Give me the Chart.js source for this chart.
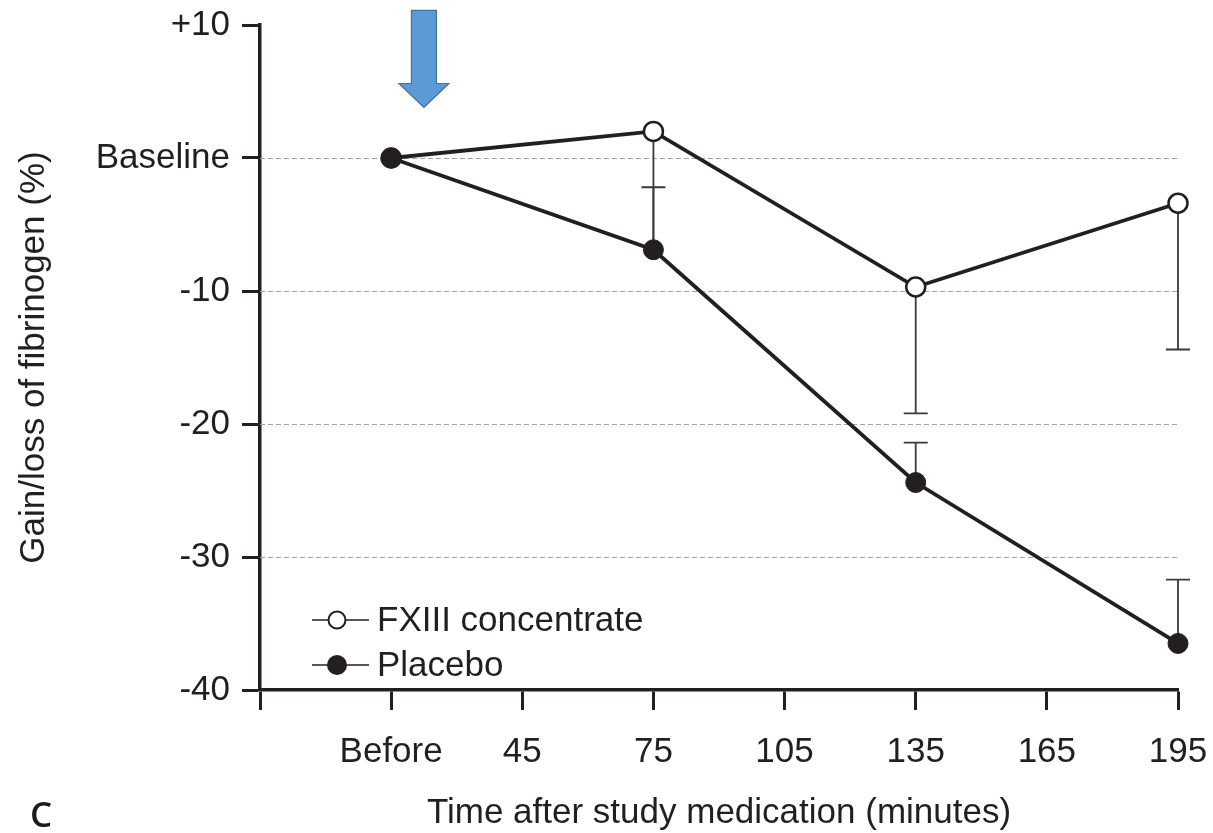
<!DOCTYPE html>
<html lang="en">
<head>
<meta charset="UTF-8">
<title>Gain/loss of fibrinogen</title>
<script src="https://cdn.jsdelivr.net/npm/chart.js"></script>
<style>
  html, body { margin: 0; padding: 0; background: #fff; }
</style>
</head>
<body>
<canvas id="myChart" width="1213" height="833"></canvas>
<script>
// data
var times = [15, 75, 135, 195];
var fxValues = [0, 2.0, -9.7, -3.4];
var fxLower = [null, -6.9, -19.2, -14.4];
var placeboValues = [0, -6.9, -24.4, -36.5];
var placeboUpper = [null, -2.2, -21.4, -31.7];
var xTickValues = [-15, 15, 45, 75, 105, 135, 165, 195];
var xTickLabels = ['', 'Before', '45', '75', '105', '135', '165', '195'];
var yTickLabels = { '10': '+10', '0': 'Baseline' };
var gridValues = [0, -10, -20, -30];
var seriesNames = ['FXIII concentrate', 'Placebo'];
// arrow marking the study medication (time, from, to)
var arrowTime = 22.5, arrowTop = 11.1, arrowShaftEnd = 5.6, arrowTip = 3.8;

var ink = '#231f20';
var fontFamily = '"Liberation Sans", Arial, Helvetica, sans-serif';

function pts(vals) {
    return times.map(function (t, i) { return { x: t, y: vals[i] }; });
}

var extras = {
    id: 'extras',
    beforeDatasetsDraw: function (chart) {
        var ctx = chart.ctx, xs = chart.scales.x, ys = chart.scales.y, area = chart.chartArea;
        ctx.save();
        ctx.strokeStyle = '#a0a0a0';
        ctx.lineWidth = 1;
        ctx.setLineDash([5, 3]);
        gridValues.forEach(function (v) {
            var y = Math.round(ys.getPixelForValue(v)) + 0.5;
            ctx.beginPath();
            ctx.moveTo(area.left, y);
            ctx.lineTo(area.right, y);
            ctx.stroke();
        });
        ctx.setLineDash([]);

        // error bars, cap skipped when the whisker ends on the other series' marker
        ctx.strokeStyle = '#3a3a3a';
        ctx.lineWidth = 1.8;
        function whisker(vals, ends, other) {
            times.forEach(function (t, i) {
                if (ends[i] === null) return;
                var x = xs.getPixelForValue(t);
                var y0 = ys.getPixelForValue(vals[i]);
                var y1 = ys.getPixelForValue(ends[i]);
                ctx.beginPath();
                ctx.moveTo(x, y0);
                ctx.lineTo(x, y1);
                if (Math.abs(ends[i] - other[i]) > 0.3) {
                    ctx.moveTo(x - 12, y1);
                    ctx.lineTo(x + 12, y1);
                }
                ctx.stroke();
            });
        }
        whisker(fxValues, fxLower, placeboValues);
        whisker(placeboValues, placeboUpper, fxValues);
        ctx.restore();
    },
    afterDraw: function (chart) {
        var ctx = chart.ctx, xs = chart.scales.x, ys = chart.scales.y, area = chart.chartArea;
        ctx.save();

        // blue arrow
        var ax = xs.getPixelForValue(arrowTime);
        var top = ys.getPixelForValue(arrowTop);
        var mid = ys.getPixelForValue(arrowShaftEnd);
        var tip = ys.getPixelForValue(arrowTip);
        ctx.beginPath();
        ctx.moveTo(ax - 12.5, top);
        ctx.lineTo(ax + 12.5, top);
        ctx.lineTo(ax + 12.5, mid);
        ctx.lineTo(ax + 25, mid);
        ctx.lineTo(ax, tip);
        ctx.lineTo(ax - 25, mid);
        ctx.lineTo(ax - 12.5, mid);
        ctx.closePath();
        ctx.fillStyle = '#5b9bd5';
        ctx.fill();
        ctx.strokeStyle = '#41719c';
        ctx.lineWidth = 1.2;
        ctx.stroke();

        // legend
        var lx = area.left + 52, mx = area.left + 77;
        var rows = [area.bottom - 70, area.bottom - 25];
        ctx.font = '35px ' + fontFamily;
        ctx.textBaseline = 'middle';
        ctx.textAlign = 'left';
        rows.forEach(function (y, i) {
            ctx.strokeStyle = ink;
            ctx.lineWidth = 1.5;
            ctx.beginPath();
            ctx.moveTo(lx, y);
            ctx.lineTo(lx + 57, y);
            ctx.stroke();
            ctx.beginPath();
            ctx.arc(mx, y, i === 0 ? 8.5 : 9, 0, Math.PI * 2);
            ctx.fillStyle = i === 0 ? '#fff' : ink;
            ctx.fill();
            ctx.lineWidth = 2;
            ctx.stroke();
            ctx.fillStyle = ink;
            ctx.fillText(seriesNames[i], lx + 65, y + 1);
        });

        // panel letter
        ctx.font = '600 35px "Open Sans", sans-serif';
        ctx.textBaseline = 'alphabetic';
        ctx.fillStyle = '#1c1c1c';
        ctx.fillText('C', 30, 827);
        ctx.restore();
    }
};

new Chart(document.getElementById('myChart'), {
    type: 'line',
    data: {
        datasets: [
            {
                label: seriesNames[0],
                data: pts(fxValues),
                order: 2,
                borderColor: ink,
                borderWidth: 3.8,
                pointRadius: 9.5,
                pointBorderWidth: 2.5,
                pointBorderColor: ink,
                pointBackgroundColor: '#fff',
                clip: false
            },
            {
                label: seriesNames[1],
                data: pts(placeboValues),
                order: 1,
                borderColor: ink,
                borderWidth: 3.8,
                pointRadius: 10,
                pointBorderWidth: 1,
                pointBorderColor: ink,
                pointBackgroundColor: ink,
                clip: false
            }
        ]
    },
    options: {
        responsive: false,
        animation: false,
        layout: { padding: { top: 25, right: 35, left: 0, bottom: 0 } },
        plugins: {
            legend: { display: false },
            tooltip: { enabled: false }
        },
        scales: {
            x: {
                type: 'linear',
                min: -15,
                max: 195,
                afterBuildTicks: function (scale) {
                    scale.ticks = xTickValues.map(function (v) { return { value: v }; });
                },
                afterFit: function (scale) {
                    scale.height = 143;
                    scale.paddingLeft = 0;
                    scale.paddingRight = 0;
                },
                ticks: {
                    autoSkip: false,
                    maxRotation: 0,
                    padding: 21,
                    color: ink,
                    font: { family: fontFamily, size: 35 },
                    callback: function (v) {
                        var i = xTickValues.indexOf(v);
                        return i < 0 ? '' : xTickLabels[i];
                    }
                },
                grid: {
                    drawOnChartArea: false,
                    tickLength: 20,
                    tickWidth: 3,
                    tickColor: ink
                },
                border: { color: ink, width: 3.5 },
                title: {
                    display: true,
                    text: 'Time after study medication (minutes)',
                    color: ink,
                    font: { family: fontFamily, size: 35, lineHeight: 1.1 },
                    padding: { top: 0, bottom: 0 }
                }
            },
            y: {
                min: -40,
                max: 10,
                afterFit: function (scale) {
                    scale.width = 260;
                    scale.paddingTop = 0;
                    scale.paddingBottom = 0;
                },
                ticks: {
                    stepSize: 10,
                    padding: 12,
                    color: ink,
                    font: { family: fontFamily, size: 35 },
                    callback: function (v) {
                        return yTickLabels[String(v)] !== undefined ? yTickLabels[String(v)] : String(v);
                    }
                },
                grid: {
                    drawOnChartArea: false,
                    tickLength: 18,
                    tickWidth: 3,
                    tickColor: ink
                },
                border: { color: ink, width: 3.5 },
                title: {
                    display: true,
                    text: 'Gain/loss of fibrinogen (%)',
                    color: ink,
                    font: { family: fontFamily, size: 35, lineHeight: 1.2 },
                    padding: { top: 13, bottom: 0 }
                }
            }
        }
    },
    plugins: [extras]
});
</script>
</body>
</html>
